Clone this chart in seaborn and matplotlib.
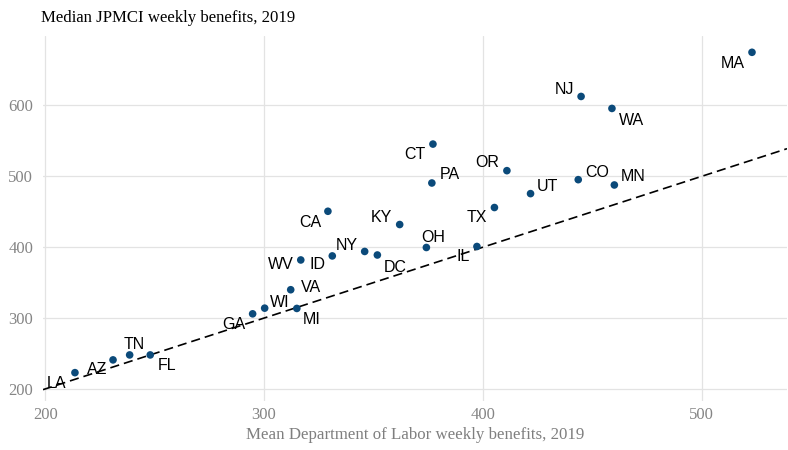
import matplotlib
matplotlib.use("Agg")
from matplotlib import pyplot as plt
import pandas as pd
import seaborn as sns

# state values
states = ["LA", "AZ", "TN", "FL", "GA", "WI", "VA", "MI", "WV", "ID", "NY", "DC", "CA",
          "KY", "OH", "IL", "TX", "CT", "PA", "OR", "UT", "CO", "MN", "NJ", "WA", "MA"]
dol_mean = [213.6, 231, 238.6, 248, 294.8, 300.3, 312.2, 315, 316.8, 331.2, 346, 351.8, 329.2,
            362, 374.2, 397.3, 405.3, 377.2, 376.7, 411, 421.8, 443.6, 460.1, 444.9, 459, 523]
jpmci_median = [223, 241, 248, 248, 306, 314, 340, 313.6, 382, 387.7, 394, 389, 450.7,
                432, 399.6, 401, 456, 545.5, 490.6, 508, 475.6, 495.3, 487.8, 612.7, 595.8, 675]

x_ticks = [200, 300, 400, 500]
y_ticks = [200, 300, 400, 500, 600]

# label offsets in pixels (dx right, dy down), like ggrepel placed them
label_offsets = {
    "LA": (-18, 10), "AZ": (-16, 9), "TN": (5, -11), "FL": (17, 10), "GA": (-19, 10),
    "WI": (15, -7), "VA": (20, -3), "MI": (15, 10), "WV": (-20, 4), "ID": (-15, 8),
    "NY": (-18, -7), "DC": (18, 11), "CA": (-18, 10), "KY": (-18, -8), "OH": (7, -11),
    "IL": (-14, 9), "TX": (-18, 9), "CT": (-18, 9), "PA": (18, -9), "OR": (-20, -9),
    "UT": (17, -8), "CO": (19, -8), "MN": (19, -9), "NJ": (-17, -7.5), "WA": (20, 11),
    "MA": (-19, 10),
}

df = pd.DataFrame({"state": states, "dol": dol_mean, "jpmci": jpmci_median})

sns.set_theme(style="white")
plt.rcParams["font.family"] = ["Liberation Serif", "DejaVu Serif"]

fig = plt.figure(figsize=(7.88, 4.5), dpi=100)
ax = fig.add_axes([43 / 788, 1 - 401 / 450, 744 / 788, (401 - 36) / 450])

xlim = (199, 539)
ylim = (183, 698)

# 45 degree line
ax.plot(xlim, xlim, color="black", linestyle=(0, (5.5, 3)), linewidth=1.2, zorder=2)

sns.scatterplot(data=df, x="dol", y="jpmci", color="#0b4a7a", s=30, edgecolor="none",
                ax=ax, zorder=3)

for st, xv, yv in zip(df["state"], df["dol"], df["jpmci"]):
    dx, dy = label_offsets[st]
    ax.annotate(st, (xv, yv), xytext=(dx, -dy - 1), textcoords="offset pixels",
                ha="center", va="center", fontsize=11.5, color="black",
                family=["Liberation Sans", "DejaVu Sans"], zorder=4)

ax.set_xlim(*xlim)
ax.set_ylim(*ylim)
ax.set_xticks(x_ticks)
ax.set_yticks(y_ticks)
ax.grid(True, color="#e3e3e3", linewidth=0.9)
ax.set_axisbelow(True)
for s in ax.spines.values():
    s.set_visible(False)
ax.tick_params(axis="both", length=0, labelsize=12, labelcolor="#858585")
ax.tick_params(axis="y", pad=7)
ax.tick_params(axis="x", pad=4)

ax.set_xlabel("Mean Department of Labor weekly benefits, 2019", fontsize=12.2, color="#7f7f7f",
              labelpad=3)
ax.set_ylabel("")
fig.text(41 / 788, 1 - 18 / 450, "Median JPMCI weekly benefits, 2019", fontsize=12.1,
         color="black", ha="left", va="center")

fig.savefig("out.png", dpi=100)
